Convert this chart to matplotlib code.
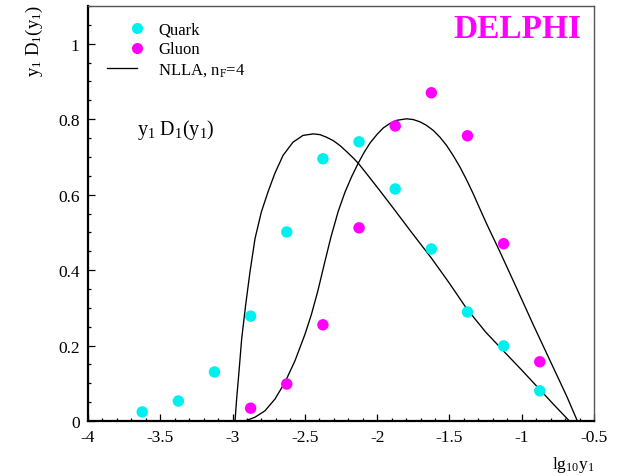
import matplotlib
matplotlib.use("Agg")
import matplotlib.pyplot as plt
from matplotlib.lines import Line2D
from matplotlib.legend_handler import HandlerLine2D
from matplotlib.ticker import MultipleLocator

# ---- data ----
x_bins = [-3.625, -3.375, -3.125, -2.875, -2.625, -2.375, -2.125,
          -1.875, -1.625, -1.375, -1.125, -0.875]
quark_y = [0.024, 0.053, 0.130, 0.278, 0.501, 0.695, 0.740,
           0.615, 0.456, 0.289, 0.199, 0.080]

gluon_x = [-2.875, -2.625, -2.375, -2.125, -1.875, -1.625, -1.375,
           -1.125, -0.875]
gluon_y = [0.034, 0.098, 0.255, 0.512, 0.782, 0.870, 0.756, 0.470, 0.157]

nlla_q_x = [-2.983, -2.972, -2.956, -2.937, -2.910, -2.880, -2.845, -2.801,
            -2.755, -2.709, -2.651, -2.582, -2.513, -2.442, -2.395, -2.349,
            -2.303, -2.257, -2.211, -2.165, -2.130, -2.072, -1.980, -1.888,
            -1.760, -1.625, -1.500, -1.381, -1.250, -1.127, -1.000, -0.874,
            -0.770, -0.670]
nlla_q_y = [0.000, 0.058, 0.129, 0.218, 0.306, 0.394, 0.483, 0.554,
            0.607, 0.655, 0.704, 0.739, 0.757, 0.761, 0.759, 0.752,
            0.743, 0.730, 0.714, 0.697, 0.683, 0.655, 0.610, 0.564,
            0.499, 0.432, 0.365, 0.298, 0.236, 0.186, 0.135, 0.083,
            0.040, 0.000]

nlla_g_x = [-2.914, -2.845, -2.776, -2.707, -2.637, -2.568, -2.499, -2.455,
            -2.410, -2.365, -2.320, -2.270, -2.222, -2.176, -2.130, -2.090,
            -2.049, -2.000, -1.957, -1.910, -1.865, -1.796, -1.750, -1.704,
            -1.660, -1.611, -1.565, -1.519, -1.473, -1.427, -1.381, -1.335,
            -1.290, -1.242, -1.150, -1.035, -0.920, -0.804, -0.689, -0.615]
nlla_g_y = [0.000, 0.010, 0.027, 0.058, 0.103, 0.160, 0.230, 0.282,
            0.345, 0.417, 0.487, 0.555, 0.607, 0.648, 0.684, 0.712,
            0.737, 0.760, 0.777, 0.789, 0.797, 0.801, 0.799, 0.793,
            0.784, 0.770, 0.752, 0.730, 0.703, 0.673, 0.639, 0.602,
            0.563, 0.522, 0.448, 0.352, 0.255, 0.160, 0.066, 0.000]

x_ticks = [-4, -3.5, -3, -2.5, -2, -1.5, -1, -0.5]
x_tick_labels = ["-4", "-3.5", "-3", "-2.5", "-2", "-1.5", "-1", "-0.5"]
y_ticks = [0, 0.2, 0.4, 0.6, 0.8, 1.0]
y_tick_labels = ["0", "0.2", "0.4", "0.6", "0.8", "1"]

CYAN = "#00f0f0"
MAGENTA = "#ff00ff"

plt.rcParams["font.family"] = ["Liberation Serif", "DejaVu Serif"]
plt.rcParams["mathtext.fontset"] = "custom"
plt.rcParams["mathtext.rm"] = "Liberation Serif"
plt.rcParams["mathtext.it"] = "Liberation Serif:italic"
plt.rcParams["axes.unicode_minus"] = False

fig = plt.figure(figsize=(6.17, 4.77), dpi=100)
ax = fig.add_axes([88 / 617, 55 / 477, 506 / 617, 415 / 477])

ax.plot(nlla_q_x, nlla_q_y, color="black", lw=0.95, zorder=2)
ax.plot(nlla_g_x, nlla_g_y, color="black", lw=0.95, zorder=2)
ax.scatter(x_bins, quark_y, s=68, color=CYAN, edgecolors="none", zorder=3)
ax.scatter(gluon_x, gluon_y, s=68, color=MAGENTA, edgecolors="none", zorder=3)

ax.set_xlim(-4, -0.5)
ax.set_ylim(0, 1.1)
ax.set_xticks(x_ticks)
ax.set_xticklabels(x_tick_labels)
ax.set_yticks(y_ticks)
ax.set_yticklabels(y_tick_labels)
ax.xaxis.set_minor_locator(MultipleLocator(0.1))
ax.yaxis.set_minor_locator(MultipleLocator(0.05))
ax.tick_params(which="both", direction="in", top=False, right=False,
               labelsize=12.5, width=0.9)
ax.tick_params(which="major", length=5)
ax.tick_params(which="minor", length=2.5)
ax.tick_params(axis="x", pad=6)
ax.tick_params(axis="y", pad=6)

for s in ["left", "bottom"]:
    ax.spines[s].set_linewidth(1.6)
    ax.spines[s].set_color("black")
for s in ["top", "right"]:
    ax.spines[s].set_linewidth(1.0)
    ax.spines[s].set_color("#555555")

ax.set_ylabel(r"y$_1$ D$_1$(y$_1$)", fontsize=13.5, loc="top")
ax.yaxis.set_label_coords(-0.085, 1.005)
ax.set_xlabel(r"lg$_{10}$y$_1$", fontsize=12.5, loc="right")
ax.xaxis.set_label_coords(1.0, -0.08)

ax.text(0.097, 0.692, r"y$_1$ D$_1$(y$_1$)", transform=ax.transAxes,
        fontsize=14.5, ha="left", va="baseline")
ax.text(0.976, 0.925, "DELPHI", transform=ax.transAxes, fontsize=24,
        fontweight="bold", color=MAGENTA, ha="right", va="baseline")


class RightMarkerHandler(HandlerLine2D):
    def get_xdata(self, legend, xdescent, ydescent, width, height, fontsize):
        x0 = -xdescent + width
        return [x0 - 2, x0 + 2], [x0]


h_q = Line2D([], [], ls="none", marker="o", ms=8, mfc=CYAN, mec="none")
h_g = Line2D([], [], ls="none", marker="o", ms=8, mfc=MAGENTA, mec="none")
h_l = Line2D([], [], color="black", lw=0.95)
leg = ax.legend([h_q, h_g, h_l], ["Quark", "Gluon", r"NLLA, n$_\mathrm{F}$=4"],
                loc="upper left", bbox_to_anchor=(0.0375, 0.962),
                frameon=False, fontsize=12, handlelength=1.8,
                handletextpad=1.26, labelspacing=0.22, borderpad=0,
                borderaxespad=0, numpoints=1,
                handler_map={h_q: RightMarkerHandler(),
                             h_g: RightMarkerHandler()})

fig.savefig("out.png", dpi=100)
